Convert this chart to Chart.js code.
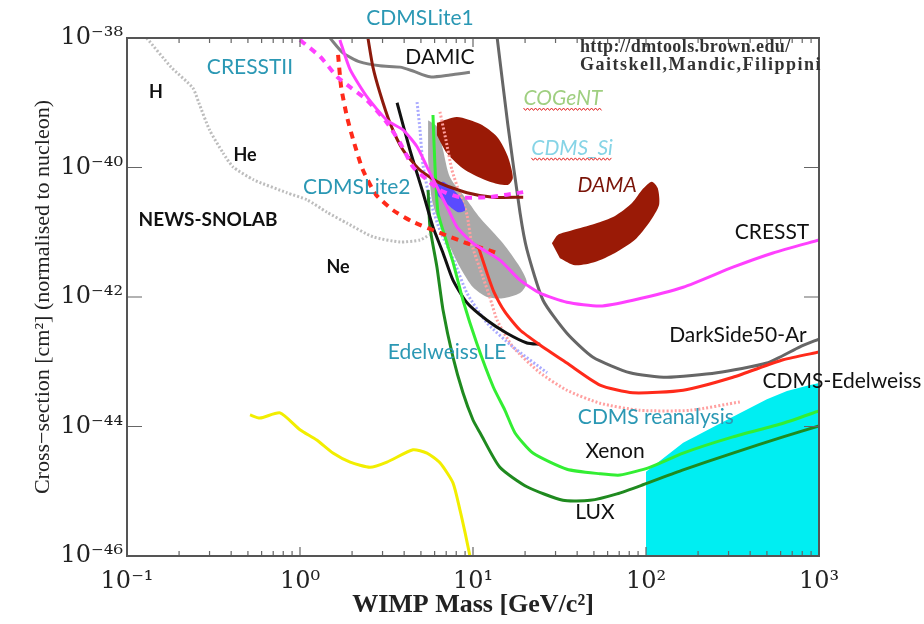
<!DOCTYPE html>
<html>
<head>
<meta charset="utf-8">
<script src="https://cdn.jsdelivr.net/npm/chart.js@4.4.1/dist/chart.umd.min.js"></script>
<style>
  html, body { margin: 0; padding: 0; background: #fff; }
  canvas { display: block; }
</style>
</head>
<body>
<canvas id="miGrafico" width="924" height="624"></canvas>
<script>
// WIMP mass in GeV/c^2, cross-section given as log10(sigma / cm^2)
const newsMass  = [0.13, 0.18, 0.24, 0.26, 0.30, 0.36, 0.41, 0.54, 0.84, 1.1, 1.43, 1.87, 2.64, 3.79, 4.94, 5.6];
const newsSigma = [-38.0, -38.45, -38.77, -39.0, -39.42, -39.78, -39.99, -40.19, -40.39, -40.5, -40.69, -40.86, -41.07, -41.15, -41.12, -41.04];

const cresst2Mass  = [1.0, 1.31, 1.64, 1.95, 2.44, 3.18, 3.79, 4.5, 5.42, 6.44, 8.41, 12.05, 15.7, 19.5];
const cresst2Sigma = [-38.03, -38.29, -38.6, -38.76, -38.96, -39.31, -39.62, -39.99, -40.19, -40.35, -40.46, -40.46, -40.42, -40.38];

const cresstMass  = [1.7, 1.95, 2.44, 3.18, 3.94, 4.75, 5.42, 6.19, 7.08, 8.08, 10, 14.3, 18.7, 24.4, 34.9, 54.2, 84, 164, 318, 542, 1000];
const cresstSigma = [-38.03, -38.49, -38.91, -39.27, -39.42, -39.68, -39.99, -40.3, -40.61, -40.92, -41.17, -41.43, -41.74, -41.94, -42.08, -42.14, -42.05, -41.85, -41.54, -41.32, -41.12];

const lite2Mass  = [1.66, 1.73, 1.87, 2.05, 2.31, 2.75, 3.45, 4.5, 6.44, 9.23, 13.8];
const lite2Sigma = [-38.26, -38.76, -39.22, -39.61, -40.04, -40.42, -40.66, -40.84, -41.01, -41.17, -41.32];

const lite1Mass  = [2.47, 2.64, 2.9, 3.31, 3.94, 4.94, 6.44, 9.23, 13.1, 19.5];
const lite1Sigma = [-38.0, -38.45, -38.85, -39.31, -39.73, -40.04, -40.24, -40.39, -40.46, -40.46];

const damicMass  = [1.49, 1.77, 2.22, 2.9, 3.79, 4.5, 5.64, 7.36, 9.6];
const damicSigma = [-38.0, -38.23, -38.37, -38.43, -38.45, -38.51, -38.6, -38.57, -38.53];

const darksideMass  = [13.8, 15.9, 18.7, 20.5, 25.4, 34.9, 49.4, 80.9, 132, 257, 500, 776, 1000];
const darksideSigma = [-38.0, -39.34, -40.7, -41.27, -42.05, -42.56, -42.93, -43.17, -43.24, -43.17, -43.02, -42.77, -42.65];

const cdmsEdelMass  = [10.7, 12.05, 13.2, 15.3, 18.7, 24.4, 34.9, 54.2, 84, 164, 318, 620, 1000];
const cdmsEdelSigma = [-41.21, -41.63, -41.92, -42.23, -42.51, -42.74, -43.02, -43.36, -43.48, -43.44, -43.24, -42.97, -42.85];

const edelLEMass  = [3.64, 4.32, 5.14, 5.87, 6.71, 7.66, 9.23, 12.05, 15.7, 20.5, 24.4];
const edelLESigma = [-39.0, -39.73, -40.39, -40.92, -41.32, -41.74, -42.09, -42.36, -42.56, -42.71, -42.73];

const xenonMass  = [5.87, 6.03, 6.28, 6.98, 7.66, 8.75, 10.5, 13.1, 15.3, 17.5, 22.2, 34.9, 54.2, 70.8, 105, 164, 318, 620, 1000];
const xenonSigma = [-39.19, -39.99, -40.7, -41.12, -41.46, -42.05, -42.71, -43.39, -43.75, -44.1, -44.41, -44.66, -44.73, -44.75, -44.63, -44.41, -44.16, -43.95, -43.76];

const luxMass  = [5.5, 5.64, 6.19, 6.71, 7.66, 8.75, 10, 11.0, 14.3, 20.5, 33.1, 47.5, 68, 96, 164, 318, 620, 1000];
const luxSigma = [-40.35, -40.92, -41.54, -42.2, -42.93, -43.48, -43.9, -44.1, -44.63, -44.93, -45.14, -45.14, -45.04, -44.9, -44.67, -44.41, -44.16, -43.99];

const snolabMass  = [0.514, 0.587, 0.766, 1.0, 1.25, 1.55, 1.95, 2.54, 3.18, 4.5, 5.42, 6.44, 7.66, 8.41, 9.0, 9.6];
const snolabSigma = [-43.82, -43.87, -43.79, -44.05, -44.21, -44.41, -44.55, -44.63, -44.55, -44.36, -44.41, -44.56, -44.87, -45.29, -45.64, -46.0];

const siDotMass  = [4.75, 4.94, 5.14, 5.64, 6.44, 7.66, 9.23, 12.05, 17.0, 26.8];
const siDotSigma = [-38.99, -39.42, -39.96, -40.5, -40.97, -41.4, -41.94, -42.4, -42.77, -43.17];

const reanMass  = [6.44, 6.98, 7.56, 8.41, 9.23, 9.87, 11.4, 12.5, 13.8, 17.0, 24.4, 34.9, 54.2, 92, 180, 349];
const reanSigma = [-39.14, -39.58, -40.04, -40.42, -40.73, -41.2, -41.69, -42.0, -42.36, -42.77, -43.17, -43.44, -43.64, -43.75, -43.75, -43.62];

// closed regions
const cogentMass  = [5.5, 6.19, 6.71, 7.36, 9.23, 11.0, 14.9, 18.7, 20.5, 18.7, 14.9, 12.05, 10, 8.41, 7.36, 6.44, 5.79, 5.5];
const cogentSigma = [-39.27, -39.37, -39.73, -40.15, -40.5, -40.78, -41.17, -41.54, -41.78, -41.94, -42.02, -42.0, -41.85, -41.54, -41.23, -40.89, -40.5, -39.88];

const dama1Mass  = [6.19, 8.08, 11.0, 13.8, 15.9, 17.0, 15.9, 12.5, 9.0, 7.08, 6.19];
const dama1Sigma = [-39.31, -39.22, -39.33, -39.53, -39.83, -40.16, -40.27, -40.22, -40.04, -39.78, -39.5];

const dama2Mass  = [28.6, 31.0, 37.4, 50.7, 66.2, 83, 96, 108, 117, 119, 105, 86, 66.2, 50.7, 38.9, 31.8];
const dama2Sigma = [-41.17, -41.04, -40.97, -40.87, -40.75, -40.55, -40.33, -40.22, -40.32, -40.58, -40.84, -41.12, -41.32, -41.46, -41.51, -41.4];

const cdmsSiMass  = [6.11, 6.71, 7.56, 8.63, 9.0, 8.19, 7.17, 6.28];
const cdmsSiSigma = [-40.27, -40.22, -40.32, -40.5, -40.66, -40.69, -40.58, -40.44];

const neutrinoMass  = [100, 100, 164, 318, 500, 653, 853, 1000, 1000];
const neutrinoSigma = [-46, -44.7, -44.25, -43.85, -43.58, -43.45, -43.37, -43.33, -46];

const yTickExp = [-46, -44, -42, -40, -38];

// text labels: [text, mass, log10 sigma]
const etiquetas = [
    ['CDMSLite1', 4.94, -37.69], ['CRESSTII', 0.514, -38.45], ['H', 0.147, -38.83],
    ['He', 0.481, -39.81], ['NEWS-SNOLAB', 0.294, -40.81], ['CDMSLite2', 2.13, -40.3],
    ['Ne', 1.66, -41.54], ['DAMIC', 6.44, -38.29], ['COGeNT', 33.1, -38.93],
    ['CDMS_Si', 37.4, -39.7], ['DAMA', 59.6, -40.27], ['CRESST', 535, -41.0],
    ['DarkSide50-Ar', 340, -42.59], ['CDMS-Edelweiss', 1358, -43.3], ['CDMS reanalysis', 114, -43.85],
    ['Xenon', 66.2, -44.38], ['LUX', 50.7, -45.32], ['Edelweiss LE', 7.08, -42.85]
];
const creditos = ['http://dmtools.brown.edu/', 'Gaitskell,Mandic,Filippini'];
const creditosPos = [[41.5, -38.15], [41.5, -38.43]];

const teal = '#2b98b4';
const estilos = {
    'CDMSLite1': [teal, '21px Lato'], 'CRESSTII': [teal, '21px Lato'], 'CDMSLite2': [teal, '21px Lato'],
    'CDMS reanalysis': [teal, '21px Lato'], 'Edelweiss LE': [teal, '21px Lato'],
    'H': ['#111', 'bold 18px Lato'], 'He': ['#111', 'bold 18px Lato'], 'Ne': ['#111', 'bold 18px Lato'],
    'NEWS-SNOLAB': ['#111', 'bold 19px Lato'],
    'COGeNT': ['#9fcf80', 'italic 21px Lato'], 'CDMS_Si': ['#86d4e6', 'italic 21px Lato'],
    'DAMA': ['#7a1408', 'italic 21px Lato']
};

function pts(mass, sig) {
    return mass.map((m, i) => ({x: m, y: Math.pow(10, sig[i])}));
}
function esPotencia(v) {
    const l = Math.log10(v);
    return Math.abs(l - Math.round(l)) < 1e-6;
}
function sup(n) {
    const map = {'-': '\u207B', '0': '\u2070', '1': '\u00B9', '2': '\u00B2', '3': '\u00B3', '4': '\u2074',
                 '5': '\u2075', '6': '\u2076', '7': '\u2077', '8': '\u2078', '9': '\u2079'};
    return String(n).split('').map(c => map[c]).join('');
}
function linea(mass, sig, color, width, dash, order) {
    return {data: pts(mass, sig), showLine: true, borderColor: color, borderWidth: width,
            borderDash: dash || [], pointRadius: 0, tension: 0.2, fill: false, order: order || 1};
}
function zona(mass, sig, color, order, tension) {
    return {data: pts(mass, sig), showLine: true, borderColor: color, borderWidth: 0,
            backgroundColor: color, pointRadius: 0, tension: tension, fill: 'shape', order: order};
}

const marcoPlugin = {
    id: 'marco',
    afterDatasetsDraw(chart) {
        const {ctx, chartArea: a, scales: {x, y}} = chart;
        ctx.save();
        ctx.strokeStyle = '#666';
        ctx.lineWidth = 1.2;
        ctx.beginPath();
        for (const t of x.ticks) {
            const px = x.getPixelForValue(t.value);
            if (px <= a.left + 1 || px >= a.right - 1) continue;
            const len = esPotencia(t.value) ? 9 : 5;
            ctx.moveTo(px, a.bottom); ctx.lineTo(px, a.bottom - len);
            ctx.moveTo(px, a.top); ctx.lineTo(px, a.top + len);
        }
        for (const t of y.ticks) {
            const py = y.getPixelForValue(t.value);
            if (py <= a.top + 1 || py >= a.bottom - 1) continue;
            ctx.moveTo(a.left, py); ctx.lineTo(a.left + 15, py);
            ctx.moveTo(a.right, py); ctx.lineTo(a.right - 15, py);
        }
        ctx.stroke();
        ctx.strokeStyle = '#555';
        ctx.lineWidth = 2;
        ctx.strokeRect(a.left, a.top, a.right - a.left, a.bottom - a.top);
        ctx.restore();
    }
};

const textosPlugin = {
    id: 'textos',
    afterDraw(chart) {
        const {ctx, scales: {x, y}} = chart;
        ctx.save();
        ctx.textBaseline = 'middle';
        ctx.textAlign = 'center';
        for (const [txt, m, s] of etiquetas) {
            const st = estilos[txt] || ['#111', '21px Lato'];
            ctx.fillStyle = st[0];
            ctx.font = st[1];
            const px = x.getPixelForValue(m);
            const py = y.getPixelForValue(Math.pow(10, s));
            ctx.fillText(txt, px, py);
            if (txt === 'COGeNT' || txt === 'CDMS_Si') {
                const w = ctx.measureText(txt).width;
                ctx.strokeStyle = '#e02020';
                ctx.lineWidth = 1;
                ctx.beginPath();
                for (let k = 0; k <= w; k += 2) {
                    const yy = py + 11 + ((k / 2) % 2 ? 1.2 : -1.2);
                    if (k === 0) ctx.moveTo(px - w / 2 + k, yy); else ctx.lineTo(px - w / 2 + k, yy);
                }
                ctx.stroke();
            }
        }
        ctx.textAlign = 'left';
        ctx.fillStyle = '#333';
        ctx.font = 'bold 18px "Liberation Serif"';
        const espacios = ['0.4px', '1.5px'];
        creditos.forEach((c, i) => {
            ctx.letterSpacing = espacios[i];
            ctx.fillText(c, x.getPixelForValue(creditosPos[i][0]), y.getPixelForValue(Math.pow(10, creditosPos[i][1])));
        });
        ctx.restore();
    }
};

const grafico = new Chart(document.getElementById('miGrafico'), {
    type: 'scatter',
    data: {
        datasets: [
            zona(neutrinoMass, neutrinoSigma, '#00eef2', 20, 0),
            zona(cogentMass, cogentSigma, '#a9a9a9', 19, 0.25),
            zona(dama1Mass, dama1Sigma, '#9a1a06', 18, 0.25),
            zona(dama2Mass, dama2Sigma, '#9a1a06', 18, 0.25),
            linea(newsMass, newsSigma, '#bdbdbd', 3, [2, 2], 10),
            linea(siDotMass, siDotSigma, '#aaaaff', 3, [2, 2], 9),
            linea(reanMass, reanSigma, '#ffa0a0', 3, [2, 2], 9),
            linea(damicMass, damicSigma, '#808080', 3, null, 8),
            linea(darksideMass, darksideSigma, '#666666', 3, null, 8),
            linea(snolabMass, snolabSigma, '#f2ee00', 3, null, 8),
            linea(luxMass, luxSigma, '#1f8a1f', 3, null, 7),
            linea(xenonMass, xenonSigma, '#33ee33', 3, null, 6),
            linea(edelLEMass, edelLESigma, '#111111', 3, null, 6),
            zona(cdmsSiMass, cdmsSiSigma, '#5a4bff', 5, 0.25),
            linea(cdmsEdelMass, cdmsEdelSigma, '#ff2a1a', 3, null, 4),
            linea(lite2Mass, lite2Sigma, '#ff2a1a', 4, [7, 6], 4),
            linea(lite1Mass, lite1Sigma, '#8c1a0c', 3, null, 3),
            linea(cresstMass, cresstSigma, '#ff40ff', 3, null, 2),
            linea(cresst2Mass, cresst2Sigma, '#ff40ff', 4, [7, 6], 2)
        ]
    },
    options: {
        responsive: false,
        animation: false,
        layout: {padding: {top: 38, right: 105, left: 0, bottom: 0}},
        plugins: {legend: {display: false}, tooltip: {enabled: false}},
        scales: {
            x: {
                type: 'logarithmic', min: 0.1, max: 1000,
                grid: {display: false, drawTicks: false}, border: {display: false},
                afterBuildTicks(scale) {
                    const t = [];
                    for (let e = -1; e <= 2; e++) for (let k = 1; k <= 9; k++) t.push({value: k * Math.pow(10, e)});
                    t.push({value: 1000});
                    scale.ticks = t;
                },
                afterFit(scale) { scale.height = 68; },
                ticks: {
                    autoSkip: false, maxRotation: 0, minRotation: 0, padding: 11, color: '#222',
                    font: {family: 'DejaVu Serif', size: 24},
                    callback: v => esPotencia(v) ? '10' + sup(Math.round(Math.log10(v))) : ''
                },
                title: {display: true, text: 'WIMP Mass [GeV/c\u00B2]', color: '#222',
                        font: {family: 'Liberation Serif', size: 26, weight: 'bold'}, padding: {bottom: 3}}
            },
            y: {
                type: 'logarithmic', min: 1e-46, max: 1e-38,
                grid: {display: false, drawTicks: false}, border: {display: false},
                afterBuildTicks(scale) {
                    scale.ticks = yTickExp.map(e => ({value: Math.pow(10, e)}));
                },
                afterFit(scale) { scale.width = 127; },
                ticks: {
                    autoSkip: false, padding: 4, color: '#222',
                    font: {family: 'DejaVu Serif', size: 24},
                    callback: v => '10' + sup(Math.round(Math.log10(v)))
                },
                title: {display: true, text: 'Cross\u2212section [cm\u00B2] (normalised to nucleon)', color: '#222',
                        font: {family: 'Liberation Serif', size: 22}, padding: {top: 30}}
            }
        }
    },
    plugins: [marcoPlugin, textosPlugin]
});
</script>
</body>
</html>
